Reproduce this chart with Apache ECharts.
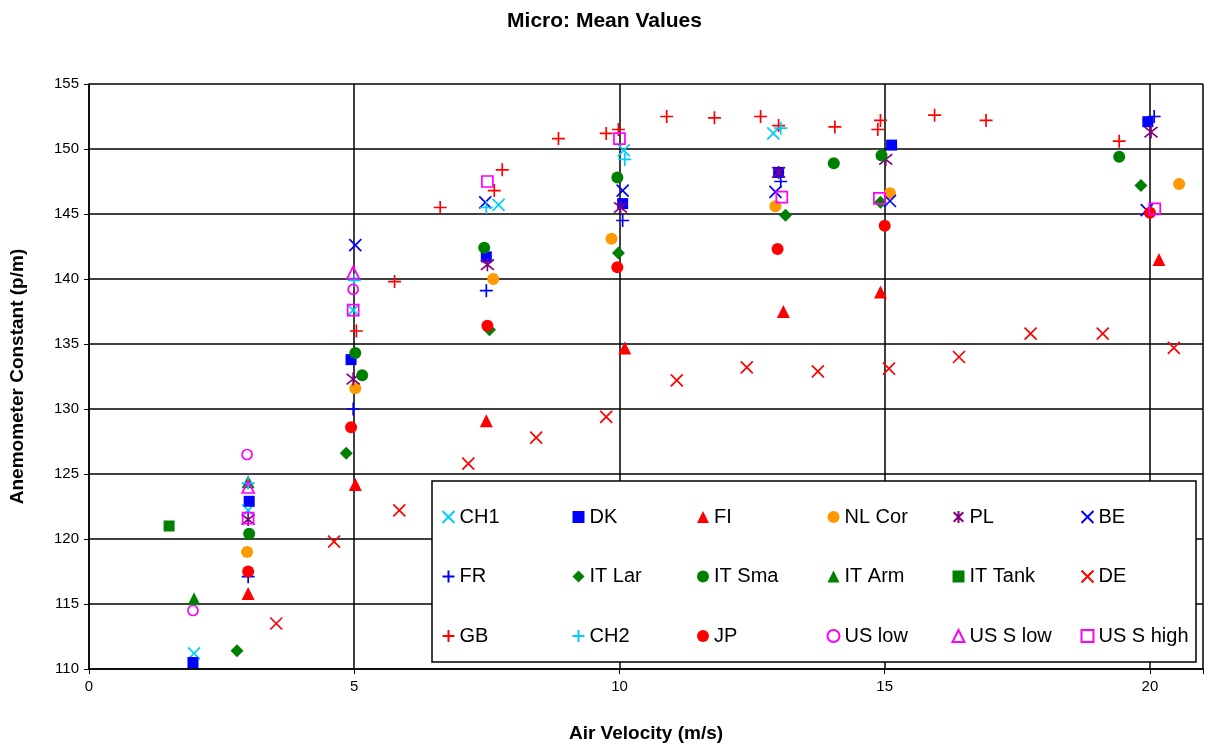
<!DOCTYPE html>
<html>
<head>
<meta charset="utf-8">
<title>Micro: Mean Values</title>
<script src="https://cdn.jsdelivr.net/npm/echarts@6/dist/echarts.min.js"></script>
<style>
  html, body { margin: 0; padding: 0; background: #fff; }
  #chart { width: 1209px; height: 749px; }
</style>
</head>
<body>
<div id="chart"></div>
<script>
// Series names, in drawing / legend order
const seriesNames = ['CH1', 'DK', 'FI', 'NL Cor', 'PL', 'BE',
                     'FR', 'IT Lar', 'IT Sma', 'IT Arm', 'IT Tank', 'DE',
                     'GB', 'CH2', 'JP', 'US low', 'US S low', 'US S high'];

// [air velocity (m/s), anemometer constant (p/m)]
const ch1 = [[1.98, 111.2], [3.0, 122.2], [4.98, 137.6], [7.72, 145.7], [10.08, 149.9], [12.9, 151.2]];
const dk = [[1.96, 110.5], [3.02, 122.9], [4.94, 133.8], [7.49, 141.7], [10.06, 145.8], [13.0, 148.2], [15.13, 150.3], [19.96, 152.1]];
const fi = [[3.0, 115.8], [5.02, 124.2], [7.49, 129.1], [10.1, 134.7], [13.09, 137.5], [14.92, 139.0], [20.17, 141.5]];
const nlCor = [[2.98, 119.0], [5.02, 131.6], [7.62, 140.0], [9.85, 143.1], [12.94, 145.6], [15.1, 146.6], [20.55, 147.3]];
const pl = [[3.0, 121.5], [4.98, 132.3], [7.51, 141.1], [10.02, 145.5], [13.0, 148.2], [15.02, 149.2], [20.02, 151.3]];
const be = [[5.02, 142.6], [7.47, 145.9], [10.06, 146.8], [12.94, 146.7], [15.1, 146.0], [19.94, 145.3]];
const fr = [[3.0, 117.1], [4.98, 130.0], [7.49, 139.1], [10.06, 144.5], [13.04, 147.5], [20.08, 152.5]];
const itLar = [[2.79, 111.4], [4.85, 126.6], [7.55, 136.1], [9.98, 142.0], [13.13, 144.9], [14.92, 145.9], [19.83, 147.2]];
const itSma = [[3.02, 120.4], [5.02, 134.3], [5.15, 132.6], [7.45, 142.4], [9.96, 147.8], [14.04, 148.9], [14.94, 149.5], [19.42, 149.4]];
const itArm = [[1.98, 115.4], [3.0, 124.4]];
const itTank = [[1.51, 121.0]];
const de = [[3.53, 113.5], [4.62, 119.8], [5.85, 122.2], [7.15, 125.8], [8.43, 127.8], [9.75, 129.4], [11.08, 132.2], [12.4, 133.2], [13.74, 132.9], [15.08, 133.1], [16.4, 134.0], [17.75, 135.8], [19.11, 135.8], [20.45, 134.7]];
const gb = [[5.04, 136.0], [5.76, 139.8], [6.62, 145.5], [7.64, 146.8], [7.79, 148.4], [8.85, 150.8], [9.75, 151.2], [9.98, 151.5], [10.89, 152.5], [11.79, 152.4], [12.66, 152.5], [13.0, 151.8], [14.06, 151.7], [14.87, 151.5], [14.92, 152.2], [15.94, 152.6], [16.91, 152.2], [19.42, 150.6]];
const ch2 = [[3.0, 124.3], [5.0, 139.9], [7.49, 145.5], [10.1, 149.2], [13.04, 151.6]];
const jp = [[3.0, 117.5], [4.94, 128.6], [7.51, 136.4], [9.96, 140.9], [12.98, 142.3], [15.0, 144.1], [20.0, 145.1]];
const usLow = [[1.96, 114.5], [2.98, 126.5], [4.98, 139.2]];
const usSLow = [[3.0, 124.0], [4.98, 140.5]];
const usSHigh = [[3.0, 121.6], [4.98, 137.6], [7.51, 147.5], [10.0, 150.8], [13.06, 146.3], [14.9, 146.2], [20.09, 145.4]];

// Axis ticks
const xTicks = [0, 5, 10, 15, 20];
const yTicks = [110, 115, 120, 125, 130, 135, 140, 145, 150, 155];

const seriesData = [ch1, dk, fi, nlCor, pl, be, fr, itLar, itSma, itArm, itTank, de, gb, ch2, jp, usLow, usSLow, usSHigh];

// Marker shapes
const CROSS = 'path://M0 0L10 10M10 0L0 10';
const PLUS = 'path://M5 0L5 10M0 5L10 5';
const ASTERISK = 'path://M1 1L9 9M9 1L1 9M5 0L5 10';

const CYAN = '#00CCFF', BLUE = '#0000FF', RED = '#FF0000', ORANGE = '#FF9900',
      PURPLE = '#800080', GREEN = '#008000', MAGENTA = '#FF00FF';

function lineMark(symbol, color, size) {
  return { symbol, symbolSize: size, itemStyle: { color: 'none', borderColor: color, borderWidth: 1.7, opacity: 1 } };
}
function solidMark(symbol, color, size) {
  return { symbol, symbolSize: size, itemStyle: { color: color, borderWidth: 0, opacity: 1 } };
}
function openMark(symbol, color, size) {
  return { symbol, symbolSize: size, itemStyle: { color: 'none', borderColor: color, borderWidth: 1.7, opacity: 1 } };
}

const markStyles = {
  'CH1': lineMark(CROSS, CYAN, 12),
  'DK': solidMark('rect', BLUE, 11),
  'FI': solidMark('triangle', RED, 13),
  'NL Cor': solidMark('circle', ORANGE, 12),
  'PL': lineMark(ASTERISK, PURPLE, 13),
  'BE': lineMark(CROSS, BLUE, 12),
  'FR': lineMark(PLUS, BLUE, 13),
  'IT Lar': solidMark('diamond', GREEN, 13),
  'IT Sma': solidMark('circle', GREEN, 12),
  'IT Arm': solidMark('triangle', GREEN, 13),
  'IT Tank': solidMark('rect', GREEN, 11),
  'DE': lineMark(CROSS, RED, 12),
  'GB': lineMark(PLUS, RED, 13),
  'CH2': lineMark(PLUS, CYAN, 13),
  'JP': solidMark('circle', RED, 12),
  'US low': openMark('circle', MAGENTA, 10),
  'US S low': openMark('triangle', MAGENTA, 12),
  'US S high': openMark('rect', MAGENTA, 11)
};

const series = seriesNames.map((name, i) => Object.assign({
  name: name,
  type: 'scatter',
  data: seriesData[i],
  z: 3 + i * 0.01,
  emphasis: { disabled: true },
  silent: true
}, markStyles[name]));

// Legend laid out in six columns of three rows
const FONT = '"Liberation Sans", Arial, sans-serif';
const colLeft = [440, 570, 697, 825, 950, 1079];
const legends = colLeft.map((left, c) => ({
  orient: 'vertical',
  left: left,
  top: 507,
  padding: 0,
  itemWidth: 12,
  itemHeight: 12,
  itemGap: 39.5,
  selectedMode: false,
  z: 20,
  textStyle: { fontFamily: FONT, fontSize: 20, color: '#000', lineHeight: 20, padding: [0, 0, 0, 0] },
  data: [seriesNames[c], seriesNames[c + 6], seriesNames[c + 12]]
}));

const chart = echarts.init(document.getElementById('chart'), null, { renderer: 'canvas' });
chart.setOption({
  animation: false,
  backgroundColor: '#fff',
  title: {
    text: 'Micro: Mean Values',
    left: 'center',
    top: 6,
    textStyle: { fontFamily: FONT, fontSize: 21, fontWeight: 'bold', color: '#000' }
  },
  grid: { left: 89, right: 6, top: 84, bottom: 80 },
  xAxis: {
    type: 'value',
    min: xTicks[0],
    max: 21,
    interval: 5,
    name: 'Air Velocity (m/s)',
    nameLocation: 'middle',
    nameGap: 55,
    nameTextStyle: { fontFamily: FONT, fontSize: 19, fontWeight: 'bold', color: '#000' },
    axisLine: { show: true, lineStyle: { color: '#000', width: 1.5 } },
    axisTick: { show: true, length: 5, lineStyle: { color: '#000' } },
    axisLabel: {
      fontFamily: FONT, fontSize: 15, color: '#000', margin: 10,
      formatter: v => (xTicks.indexOf(v) >= 0 ? String(v) : '')
    },
    splitLine: { show: true, lineStyle: { color: '#000', width: 1.5 } }
  },
  yAxis: {
    type: 'value',
    min: yTicks[0],
    max: yTicks[yTicks.length - 1],
    interval: 5,
    name: 'Anemometer Constant (p/m)',
    nameLocation: 'middle',
    nameGap: 62,
    nameTextStyle: { fontFamily: FONT, fontSize: 19, fontWeight: 'bold', color: '#000' },
    axisLine: { show: true, lineStyle: { color: '#000', width: 1.5 } },
    axisTick: { show: true, length: 5, lineStyle: { color: '#000' } },
    axisLabel: { fontFamily: FONT, fontSize: 15, color: '#000', margin: 10 },
    splitLine: { show: true, lineStyle: { color: '#000', width: 1.5 } }
  },
  legend: legends,
  graphic: [{
    type: 'rect',
    z: 15,
    silent: true,
    shape: { x: 432, y: 481, width: 764, height: 181 },
    style: { fill: '#fff', stroke: '#000', lineWidth: 1.5 }
  }],
  series: series
});
</script>
</body>
</html>
